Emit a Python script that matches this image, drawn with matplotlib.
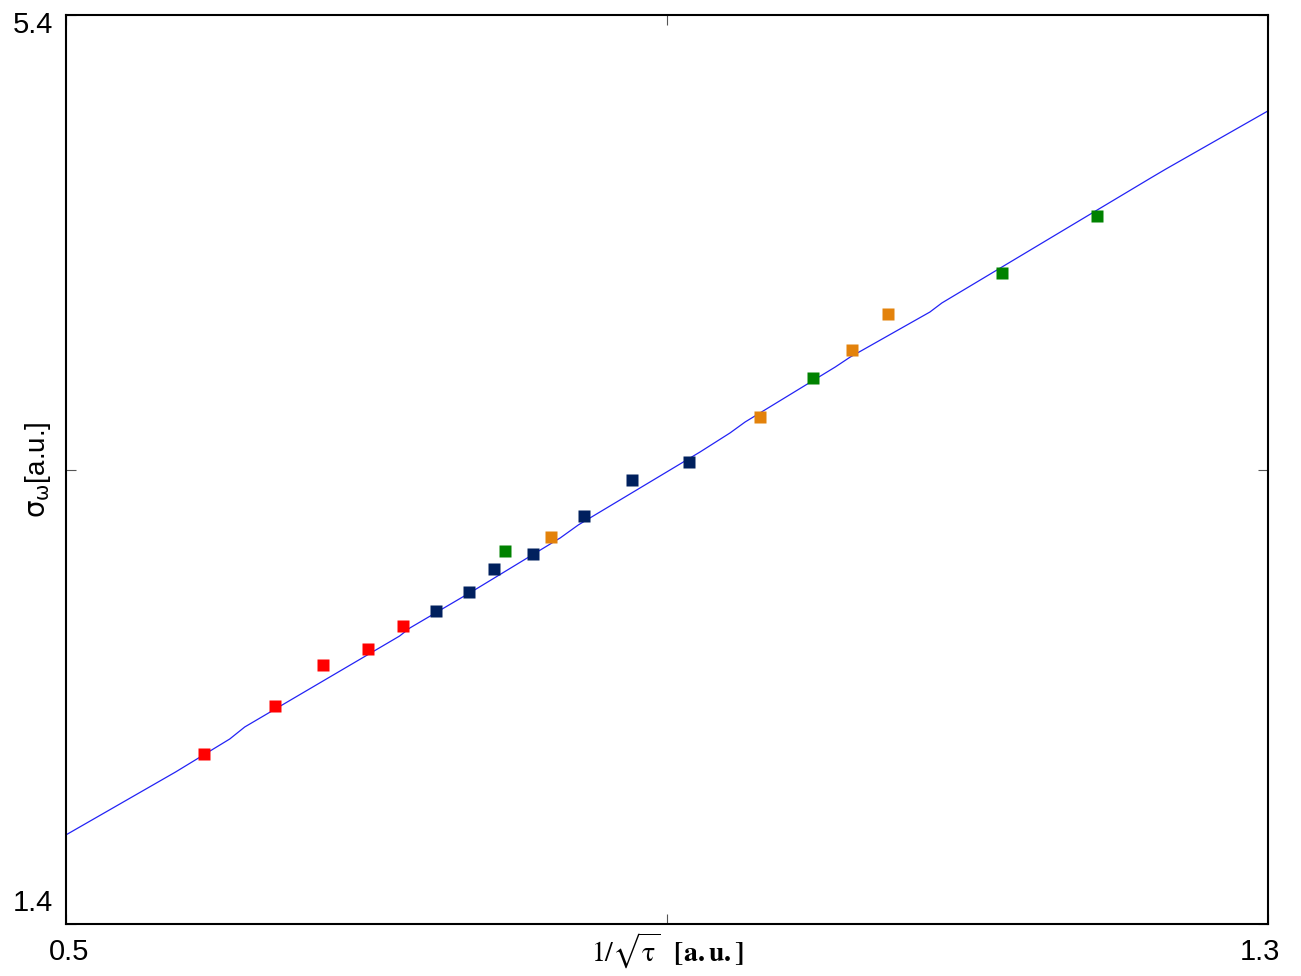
import matplotlib
matplotlib.use("Agg")
import matplotlib.pyplot as plt
from matplotlib.transforms import ScaledTranslation

# -------------------------------
# Datos
# -------------------------------
x_rojo = [0.592, 0.639, 0.671, 0.701, 0.724]
y_rojo = [2.148, 2.359, 2.540, 2.610, 2.711]

x_azul = [0.746, 0.768, 0.785, 0.811, 0.845, 0.877, 0.915]
y_azul = [2.777, 2.861, 2.962, 3.028, 3.195, 3.354, 3.433]

x_verde = [0.792, 0.997, 1.123, 1.186]
y_verde = [3.041, 3.803, 4.265, 4.516]

x_naranja = [0.823, 0.962, 1.023, 1.047]
y_naranja = [3.103, 3.631, 3.926, 4.084]

# curva de ajuste
x_ajuste = [0.500, 0.573, 0.609, 0.619, 0.722, 0.729, 0.772, 0.829, 0.841,
            0.922, 0.942, 0.952, 1.012, 1.022, 1.075, 1.083, 1.222, 1.232, 1.300]
y_ajuste = [1.792, 2.069, 2.214, 2.267, 2.667, 2.703, 2.870, 3.099, 3.156,
            3.477, 3.561, 3.609, 3.851, 3.895, 4.093, 4.133, 4.683, 4.722, 4.978]

x_ticks = [0.5, 0.9, 1.3]
x_ticklabels = ["0.5", "", "1.3"]
y_ticks = [1.4, 3.4, 5.4]
y_ticklabels = ["1.4", "", "5.4"]

# -------------------------------
# Figura
# -------------------------------
plt.rcParams["font.family"] = ["Liberation Sans", "DejaVu Sans"]

fig = plt.figure(figsize=(13.01, 9.76), dpi=100)
ax = fig.add_axes([0.0507, 0.0533, 0.9239, 0.9313])

ax.plot(x_ajuste, y_ajuste, color="#2323f5", lw=0.9, zorder=2)

for xs, ys, c in [(x_rojo, y_rojo, "#ff0000"),
                  (x_azul, y_azul, "#00205e"),
                  (x_verde, y_verde, "#008200"),
                  (x_naranja, y_naranja, "#e3820b")]:
    ax.plot(xs, ys, ls="none", marker="s", ms=8, color=c, mec="none", zorder=3)

ax.set_xlim(0.5, 1.3)
ax.set_ylim(1.4, 5.4)
ax.set_xticks(x_ticks)
ax.set_xticklabels(x_ticklabels)
ax.set_yticks(y_ticks)
ax.set_yticklabels(y_ticklabels)

ax.tick_params(direction="in", length=7, width=0.8, color="#555555",
               top=True, right=True, labelsize=21, pad=9)
ax.tick_params(axis="x", pad=10)

for s in ax.spines.values():
    s.set_linewidth(1.5)
    s.set_color("black")


def mover(lbl, dx, dy):
    # desplazamiento en pixeles (dpi 100)
    lbl.set_transform(lbl.get_transform() +
                      ScaledTranslation(dx / 100, dy / 100, fig.dpi_scale_trans))


# ajustar posicion de las etiquetas extremas
mover(ax.yaxis.get_major_ticks()[0].label1, 0, 24)
mover(ax.yaxis.get_major_ticks()[-1].label1, 0, -7)
mover(ax.xaxis.get_major_ticks()[0].label1, 3, 0)
mover(ax.xaxis.get_major_ticks()[-1].label1, -8, 0)

ax.set_xlabel(r"$1/\sqrt{\mathrm{\tau}}$  $\mathbf{[a.u.]}$", fontsize=20,
              math_fontfamily="stix")
ax.xaxis.label.set_va("center")
ax.xaxis.set_label_coords(0.5, -0.030)

ax.set_ylabel(r"$\mathrm{\sigma_{\omega}}$[a.u.]", fontsize=20,
              math_fontfamily="dejavusans")
ax.yaxis.label.set_va("center")
ax.yaxis.set_label_coords(-0.0233, 0.5)

fig.savefig("out.png", dpi=100)
